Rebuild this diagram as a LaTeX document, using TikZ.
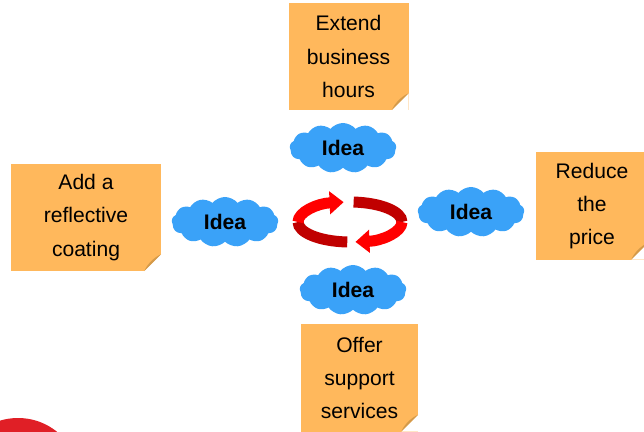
\documentclass[tikz,border=0pt]{standalone}
\usepackage{fontspec}
\setmainfont{Liberation Sans}
\usetikzlibrary{shapes.symbols,arrows.meta,calc}
\definecolor{notecol}{HTML}{FFB85C}
\definecolor{foldcol}{HTML}{D49A4A}
\definecolor{cloudcol}{HTML}{3AA2F8}
\definecolor{ringred}{HTML}{FF0000}
\definecolor{ringdark}{HTML}{C00000}
\definecolor{ballred}{HTML}{E01F26}
\tikzset{
    note/.style={fill=notecol, align=center, inner sep=0pt,
        minimum height=3.21cm, font=\fontsize{18}{28.5}\selectfont,
        path picture={
            % загнутый уголок
            \fill[white] (path picture bounding box.south east) -- ++(0,0.5cm) -- ++(-0.5cm,-0.5cm) -- cycle;
            \fill[foldcol] ([yshift=0.5cm]path picture bounding box.south east)
                .. controls ([xshift=-0.2cm,yshift=0.42cm]path picture bounding box.south east)
                and ([xshift=-0.42cm,yshift=0.2cm]path picture bounding box.south east)
                .. ([xshift=-0.5cm]path picture bounding box.south east) -- cycle;
        }},
    idea/.style={cloud, cloud puffs=13, cloud puff arc=100, aspect=2.2, fill=cloudcol, inner sep=0pt,
        minimum width=3.2cm, minimum height=1.5cm,
        font=\fontsize{18}{20}\selectfont\bfseries},
    ring/.style={line width=9.4pt},
    ringtip/.style={-{Triangle[width=19pt,length=12pt]}}
}
\begin{document}
\begin{tikzpicture}[x=0.03cm, y=-0.03cm]
    \useasboundingbox (0,0) rectangle (644,432);
    \def \rx {52} % полуоси кольца
    \def \ry {20}
    \coordinate (O) at (350,222); % центр кольца (ось y вниз: 90 = низ)

    % стикеры
    \node [note, minimum width=3.6cm] (extend) at (348.5,56.5) {Extend\\business\\hours};
    \node [note, minimum width=4.5cm] (coating) at (86,217.5) {Add a\\reflective\\coating};
    \node [note, minimum width=3.36cm] (price) at (592,206) {Reduce\\the\\price};
    \node [note, minimum width=3.51cm] (support) at (359.5,378) {Offer\\support\\services};

    % облака
    \foreach \n/\x/\y in {top/343/148, left/225/222, right/471/212, bottom/353/290} {
        \node [idea] (idea-\n) at (\x,\y) {Idea};
    }

    % круговые стрелки
    \draw [ring, ringdark] ($(O)+(93:52 and 20)$) coordinate (l0)
        arc [start angle=93, end angle=180, x radius=\rx, y radius=\ry] coordinate (l1);
    \draw [ring, ringred, ringtip] (l1)
        arc [start angle=180, end angle=263, x radius=\rx, y radius=\ry];
    \draw [ring, ringdark] ($(O)+(-86:52 and 20)$) coordinate (r0)
        arc [start angle=-86, end angle=0, x radius=\rx, y radius=\ry] coordinate (r1);
    \draw [ring, ringred, ringtip] (r1)
        arc [start angle=0, end angle=84, x radius=\rx, y radius=\ry];

    % красный круг в углу
    \fill [ballred] (18,480) circle (62);
\end{tikzpicture}
\end{document}
